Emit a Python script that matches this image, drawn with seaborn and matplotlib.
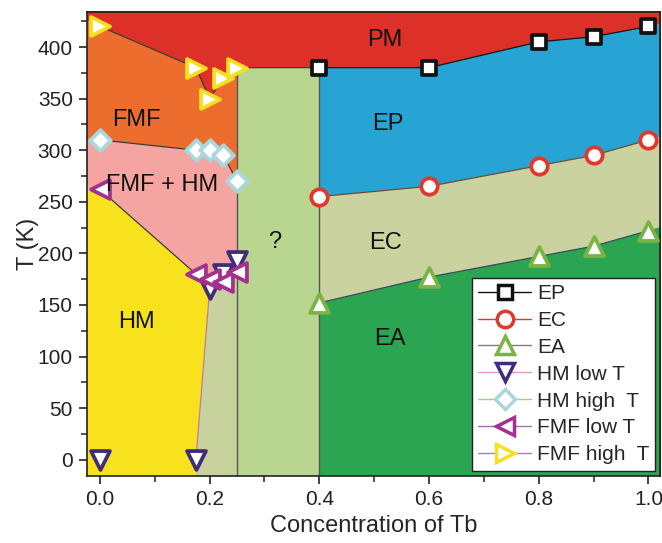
import matplotlib
matplotlib.use("Agg")
import matplotlib.pyplot as plt
from matplotlib.lines import Line2D
from matplotlib.ticker import MultipleLocator
import seaborn as sns
import pandas as pd

# === data ===
conc_hi = [0.4, 0.6, 0.8, 0.9, 1.0]
t_ep = [380, 380, 405, 410, 420]
t_ec = [255, 265, 285, 295, 310]
t_ea = [152, 177, 197, 207, 222]

conc_lo = [0.0, 0.175, 0.2, 0.225, 0.25]
t_hm_low = [0, 0, 165, 180, 193]
t_hm_high = [310, 300, 300, 295, 270]
t_fmf_low = [262, 180, 175, 172, 182]
t_fmf_high = [420, 380, 350, 370, 380]

series_names = ["EP", "EC", "EA", "HM low T", "HM high  T", "FMF low T", "FMF high  T"]
region_names = ["PM", "FMF", "FMF + HM", "HM", "?", "EP", "EC", "EA"]

sns.set_theme(style="ticks")
plt.rcParams["font.family"] = ["Liberation Sans", "DejaVu Sans"]

fig = plt.figure(figsize=(6.62, 5.43), dpi=100)
ax = fig.add_axes([0.131, 0.123, 0.866, 0.855])

XL, XR, YB, YT = -0.1, 1.1, -50, 500


def ext(xs, ys, x_new, i0, i1):
    slope = (ys[i1] - ys[i0]) / (xs[i1] - xs[i0])
    return ys[i0] + slope * (x_new - xs[i0])


top_left = ext(conc_lo, t_fmf_high, XL, 0, 1)
ep_right = ext(conc_hi, t_ep, XR, -1, -2)
ec_right = ext(conc_hi, t_ec, XR, -1, -2)
ea_right = ext(conc_hi, t_ea, XR, -1, -2)
x_cut = conc_lo[-1]
x_mid = conc_hi[0]

# --- colored phase regions ---
pm = ([XL] + conc_lo + conc_hi[1:] + [XR, XR, XL],
      [top_left] + t_fmf_high + t_ep[1:] + [ep_right, YT, YT])
fmf = ([XL] + conc_lo + [x_cut] + conc_lo[::-1] + [XL],
       [top_left] + t_fmf_high + [t_hm_high[-1]] + t_hm_high[::-1] + [t_hm_high[0]])
pink_x = [XL] + conc_lo + [x_cut] + conc_lo[2:][::-1] + conc_lo[:2][::-1] + [XL]
pink_y = ([t_hm_high[0]] + t_hm_high + [t_hm_low[-1]] + t_hm_low[2:][::-1]
          + t_fmf_low[:2][::-1] + [t_fmf_low[0]])
hm = ([XL, XL] + conc_lo[:2] + [conc_lo[2], conc_lo[1], conc_lo[1]],
      [YB, t_fmf_low[0]] + t_fmf_low[:2] + [t_hm_low[2], t_hm_low[1], YB])
tan = ([conc_lo[1]] + conc_lo[1:] + [x_cut],
       [YB] + t_hm_low[1:] + [YB])
unknown = ([x_cut, x_cut, x_mid, x_mid], [YB, t_ep[0], t_ep[0], YB])
ep = (conc_hi + [XR, XR] + conc_hi[::-1], t_ep + [ep_right, ec_right] + t_ec[::-1])
ec = (conc_hi + [XR, XR] + conc_hi[::-1], t_ec + [ec_right, ea_right] + t_ea[::-1])
ea = (conc_hi + [XR, XR, x_mid], t_ea + [ea_right, YB, YB])

fills = [(pm, "#dd3029"), (fmf, "#ec6d2d"), ((pink_x, pink_y), "#f4a4a1"),
         (hm, "#f8e21e"), (tan, "#c8d29c"), (unknown, "#b8d68f"),
         (ep, "#27a4d3"), (ec, "#cad39f"), (ea, "#2ca552")]
for (px, py), col in fills:
    ax.fill(px, py, color=col, lw=0, zorder=1)

# --- boundary lines ---
lc = "#3a3a3a"
lines_df = [
    (conc_hi, t_ep, "#111111"), (conc_hi, t_ec, "#6a4a3a"), (conc_hi, t_ea, "#3a4a5a"),
    (conc_lo, t_hm_high, lc), (conc_lo[:2], t_fmf_low[:2], lc),
    (conc_lo + [x_mid], t_fmf_high + [t_fmf_high[-1]], lc),
    (conc_lo[1:3], t_hm_low[1:3], "#c77a9a"),
]
for xs, ys, col in lines_df:
    sns.lineplot(x=xs, y=ys, sort=False, color=col, lw=0.9, ax=ax, zorder=2)
ax.plot([x_cut, x_cut], [YB, t_ep[0]], color="#555555", lw=1.0, zorder=2)
ax.plot([x_mid, x_mid], [YB, t_ep[0]], color="#555555", lw=1.0, zorder=2)

# --- markers ---
styles = [
    (conc_hi, t_ep, "s", "#111111", "#111111", 115),
    (conc_hi, t_ec, "o", "#e0382b", "#e0382b", 140),
    (conc_hi, t_ea, "^", "#7ab443", "#8a70b0", 185),
    (conc_lo, t_hm_low, "v", "#3f2c7a", "#d79ad2", 185),
    (conc_lo, t_hm_high, "D", "#a8d8de", "#a9c98a", 110),
    (conc_lo, t_fmf_low, "<", "#a32f8e", "#a070b0", 185),
    (conc_lo, t_fmf_high, ">", "#f6e01e", "#a080c0", 185),
]
handles = []
for (xs, ys, m, ec_col, lcol, s), name in zip(styles, series_names):
    df = pd.DataFrame({"conc": xs, "T": ys})
    sns.scatterplot(data=df, x="conc", y="T", marker=m, s=s, color="white",
                    edgecolor=ec_col, linewidth=2.7, ax=ax, zorder=5, legend=False)
    handles.append(Line2D([], [], color=lcol, lw=1.0, marker=m, markersize=s ** 0.5,
                          markerfacecolor="white", markeredgecolor=ec_col,
                          markeredgewidth=2.5, label=name))

# --- region labels ---
label_pos = [(0.52, 407), (0.066, 329), (0.113, 266), (0.066, 133),
             (0.318, 211), (0.525, 325), (0.52, 210), (0.528, 117)]
for name, (lx, ly) in zip(region_names, label_pos):
    ax.text(lx, ly, name, ha="center", va="center", fontsize=17, color="#111111", zorder=6)

ax.set_xlim(-0.024, 1.021)
ax.set_ylim(-16, 434)
ax.xaxis.set_major_locator(MultipleLocator(0.2))
ax.xaxis.set_minor_locator(MultipleLocator(0.1))
ax.yaxis.set_major_locator(MultipleLocator(50))
ax.yaxis.set_minor_locator(MultipleLocator(25))
ax.xaxis.set_major_formatter(matplotlib.ticker.FormatStrFormatter("%.1f"))
ax.tick_params(which="major", direction="out", length=6, width=1.2, labelsize=15,
               colors="#222222", pad=4)
ax.tick_params(which="minor", direction="out", length=4, width=1.1, colors="#222222")
for side in ["top", "right"]:
    sec = ax.secondary_xaxis("top") if side == "top" else ax.secondary_yaxis("right")
    axis = sec.xaxis if side == "top" else sec.yaxis
    step = (0.2, 0.1) if side == "top" else (50, 25)
    axis.set_major_locator(MultipleLocator(step[0]))
    axis.set_minor_locator(MultipleLocator(step[1]))
    sec.tick_params(which="both", direction="in", length=5, width=1.1,
                    labelleft=False, labelright=False, labeltop=False, colors="#222222")
    for sp in sec.spines.values():
        sp.set_linewidth(1.2)
for sp in ax.spines.values():
    sp.set_visible(True)
    sp.set_linewidth(1.2)
    sp.set_color("#222222")

ax.set_xlabel("Concentration of Tb", fontsize=17, labelpad=4)
ax.set_ylabel("T (K)", fontsize=17, labelpad=-1)

leg = ax.legend(handles=handles, loc="lower right", bbox_to_anchor=(0.992, 0.012),
                fontsize=15, frameon=True, fancybox=False, framealpha=1,
                edgecolor="#222222", handlelength=2.5, labelspacing=0.38,
                borderpad=0.3, handletextpad=0.3, borderaxespad=0)
leg.get_frame().set_linewidth(1.0)
leg.set_zorder(10)

fig.savefig("out.png", dpi=100)
